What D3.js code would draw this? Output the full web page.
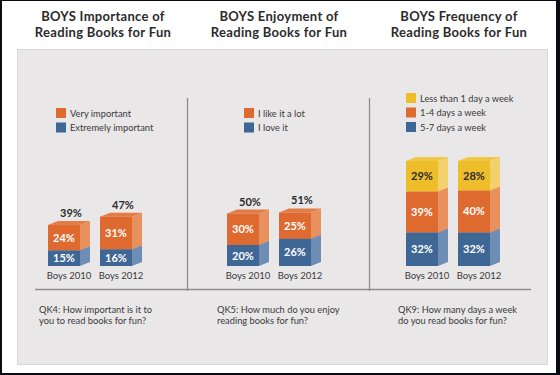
<!DOCTYPE html>
<html><head><meta charset="utf-8">
<script src="https://cdn.jsdelivr.net/npm/d3@7"></script>
<style>body{margin:0;padding:0;background:#fff}svg{display:block}</style>
</head><body>
<script>
const categories = ["Boys 2010", "Boys 2012"];
const titles = [["BOYS Importance of","Reading Books for Fun"],["BOYS Enjoyment of","Reading Books for Fun"],["BOYS Frequency of","Reading Books for Fun"]];
const questions = [["QK4: How important is it to","you to read books for fun?"],["QK5: How much do you enjoy","reading books for fun?"],["QK9: How many days a week","do you read books for fun?"]];
// series (bottom to top)
const impSeries = ["Extremely important","Very important"];
const impExtremely = [15,16];
const impVery = [24,31];
const impTotals = [39,47];
const enjSeries = ["I love it","I like it a lot"];
const enjLove = [20,26];
const enjLikeLot = [30,25];
const enjTotals = [50,51];
const freqSeries = ["5-7 days a week","1-4 days a week","Less than 1 day a week"];
const freq57 = [32,32];
const freq14 = [39,40];
const freqLess = [29,28];

const W=560,H=375;
const svg=d3.select("body").append("svg").attr("width",W).attr("height",H);
svg.append("rect").attr("width",W).attr("height",H).attr("fill","#0a0a14");
svg.append("rect").attr("x",2).attr("y",1).attr("width",554).attr("height",372).attr("fill","#fff");
svg.append("rect").attr("x",17.5).attr("y",49.5).attr("width",530).attr("height",315).attr("fill","#e9e7e8").attr("stroke","#d9d7d8").attr("stroke-width",1);

const colors={
  blue:{front:"#3f6796",side:"#6d8db4",top:"#5579a6",text:"#fff"},
  orange:{front:"#df6a2f",side:"#e8915f",top:"#e47c45",text:"#fff"},
  yellow:{front:"#eebd2a",side:"#f2d06c",top:"#f1c846",text:"#2b2b2b"}
};
const font="Lato, 'Open Sans', sans-serif";
const y=d3.scaleLinear().domain([0,100]).range([266,161]);
const dx=10, dy=4;

const panels=[
  {x0:48, cx:103, series:impSeries, values:[impExtremely,impVery], cols:["blue","orange"], totals:impTotals, legendY:108, legendX:56},
  {x0:227, cx:279, series:enjSeries, values:[enjLove,enjLikeLot], cols:["blue","orange"], totals:enjTotals, legendY:108, legendX:244},
  {x0:406, cx:459, series:freqSeries, values:[freq57,freq14,freqLess], cols:["blue","orange","yellow"], totals:null, legendY:93, legendX:406}
];

// dividers & baseline
[187.5,369.5].forEach(xv=>svg.append("line").attr("x1",xv).attr("x2",xv).attr("y1",98).attr("y2",291).attr("stroke","#8f8f8f").attr("stroke-width",1.3));
svg.append("line").attr("x1",35).attr("x2",531).attr("y1",289.5).attr("y2",289.5).attr("stroke","#8f8f8f").attr("stroke-width",1.3);

panels.forEach((p,pi)=>{
  titles[pi].forEach((t,i)=>svg.append("text").attr("x",p.cx).attr("y",21+i*16).attr("text-anchor","middle")
    .attr("font-family",font).attr("font-weight","bold").attr("font-size",13).attr("letter-spacing",0.3).attr("fill","#2b2b2b").text(t));
  questions[pi].forEach((t,i)=>svg.append("text").attr("x",[39,217,398][pi]).attr("y",313+i*11)
    .attr("font-family",font).attr("font-size",9.3).attr("fill","#3a3a3a").text(t));
  const x=d3.scaleBand().domain(categories).range([p.x0,p.x0+84]).paddingInner(20/52).paddingOuter(0);
  const bw=x.bandwidth();
  const g=svg.append("g");
  categories.forEach((c,ci)=>{
    let cum=0;
    const bx=x(c);
    p.values.forEach((vals,si)=>{
      const v=vals[ci], col=colors[p.cols[si]];
      const yb=y(cum), yt=y(cum+v);
      g.append("path").attr("d",`M${bx+bw},${yb}L${bx+bw+dx},${yb-dy}L${bx+bw+dx},${yt-dy}L${bx+bw},${yt}Z`).attr("fill",col.side);
      g.append("path").attr("d",`M${bx},${yt}L${bx+dx},${yt-dy}L${bx+bw+dx},${yt-dy}L${bx+bw},${yt}Z`).attr("fill",col.top);
      g.append("rect").attr("x",bx).attr("y",yt).attr("width",bw).attr("height",yb-yt).attr("fill",col.front);
      g.append("text").attr("x",bx+bw/2).attr("y",(yb+yt)/2+4).attr("text-anchor","middle")
        .attr("font-family",font).attr("font-weight","bold").attr("font-size",11).attr("fill",col.text).text(v+"%");
      cum+=v;
    });
    if(p.totals){
      g.append("text").attr("x",bx+(bw+dx)/2+2).attr("y",y(p.totals[ci])-dy-4).attr("text-anchor","middle")
        .attr("font-family",font).attr("font-weight","bold").attr("font-size",11).attr("fill","#2b2b2b").text(p.totals[ci]+"%");
    }
    g.append("text").attr("x",bx+(bw+dx)/2).attr("y",279).attr("text-anchor","middle")
      .attr("font-family",font).attr("font-size",9.5).attr("fill","#3a3a3a").text(c);
  });
  const n=p.series.length;
  for(let k=0;k<n;k++){
    const si=n-1-k;
    const ly=p.legendY+k*14.5;
    svg.append("rect").attr("x",p.legendX).attr("y",ly).attr("width",10).attr("height",10).attr("fill",colors[p.cols[si]].front);
    svg.append("text").attr("x",p.legendX+14).attr("y",ly+8.5).attr("font-family",font).attr("font-size",9.3).attr("fill","#3a3a3a").text(p.series[si]);
  }
});
</script>
</body></html>
